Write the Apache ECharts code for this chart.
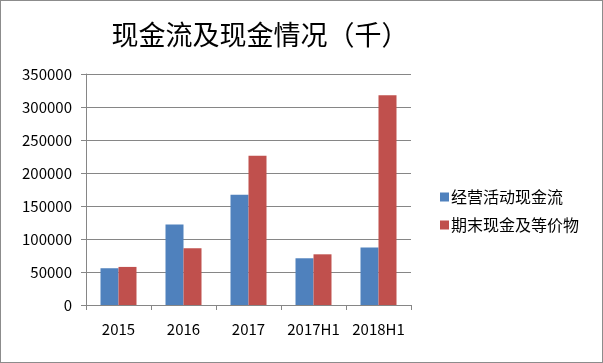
<!DOCTYPE html>
<html><head><meta charset="utf-8">
<script src="https://cdn.jsdelivr.net/npm/echarts@6/dist/echarts.min.js"></script>
<style>html,body{margin:0;padding:0;background:#fff}#c{width:601px;height:361px;border:1px solid #8c8c8c}</style>
</head><body><div id="c"></div>
<script>
const categories = ['2015','2016','2017','2017H1','2018H1'];
const seriesNames = ['经营活动现金流','期末现金及等价物'];
const operatingCashFlow = [55700, 122000, 167200, 70800, 87300];
const endingCash = [57700, 85800, 226300, 76800, 317800];
const yTicks = [0, 50000, 100000, 150000, 200000, 250000, 300000, 350000];

const chart = echarts.init(document.getElementById('c'), null, {renderer:'canvas'});
const font = '"Noto Sans CJK SC", "Noto Sans", sans-serif';
chart.setOption({
  animation:false,
  backgroundColor:'#fff',
  title:{text:'现金流及现金情况（千）', left:254, top:15, textAlign:'center',
    textStyle:{fontFamily:font, fontSize:27, fontWeight:'normal', color:'#000'}},
  legend:{orient:'vertical', left:434, top:183, itemWidth:9, itemHeight:9, itemGap:12,
    icon:'rect', textStyle:{fontFamily:font, fontSize:16, color:'#000', padding:[0,0,0,-3]},
    data:seriesNames},
  grid:{left:85, right:191, top:73, bottom:57},
  xAxis:{type:'category', data:categories,
    axisLine:{lineStyle:{color:'#868686'}},
    axisTick:{show:true, length:5, lineStyle:{color:'#868686'}},
    axisLabel:{fontFamily:font, fontSize:15, color:'#000', margin:17, interval:0, hideOverlap:false}},
  yAxis:{type:'value', min:yTicks[0], max:yTicks[yTicks.length-1], interval:50000,
    axisLine:{show:true, lineStyle:{color:'#868686'}},
    axisTick:{show:true, length:5, lineStyle:{color:'#868686'}},
    splitLine:{lineStyle:{color:'#868686'}},
    axisLabel:{fontFamily:font, fontSize:15, color:'#000', margin:14, formatter:v=>String(v)}},
  series:[
    {name:seriesNames[0], type:'bar', data:operatingCashFlow, barWidth:18, barGap:'0%', itemStyle:{color:'#4F81BD'}},
    {name:seriesNames[1], type:'bar', data:endingCash, barWidth:18, barGap:'0%', itemStyle:{color:'#C0504D'}}
  ]
});
</script></body></html>
